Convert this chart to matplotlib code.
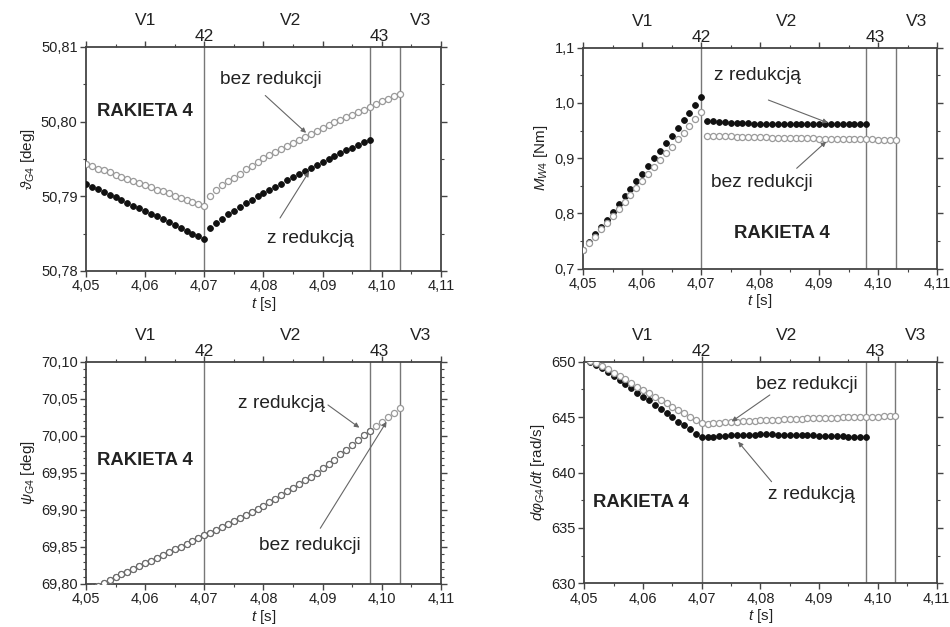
import matplotlib
matplotlib.use('Agg')
import matplotlib.pyplot as plt
import matplotlib.ticker as mticker
import numpy as np

plt.rcParams['font.family'] = ['Liberation Sans', 'DejaVu Sans']
plt.rcParams['mathtext.fontset'] = 'custom'
plt.rcParams['mathtext.rm'] = 'Liberation Sans'
plt.rcParams['mathtext.it'] = 'Liberation Sans:italic'

# time stamps [s]: phase V1 and phase V2/V3
t_v1 = [4.050, 4.051, 4.052, 4.053, 4.054, 4.055, 4.056, 4.057, 4.058, 4.059,
        4.060, 4.061, 4.062, 4.063, 4.064, 4.065, 4.066, 4.067, 4.068, 4.069,
        4.070]
t_v2 = [4.071, 4.072, 4.073, 4.074, 4.075, 4.076, 4.077, 4.078, 4.079, 4.080,
        4.081, 4.082, 4.083, 4.084, 4.085, 4.086, 4.087, 4.088, 4.089, 4.090,
        4.091, 4.092, 4.093, 4.094, 4.095, 4.096, 4.097, 4.098, 4.099, 4.100,
        4.101, 4.102, 4.103]

# theta_G4 [deg]
theta_red = [50.7917, 50.7913, 50.7910, 50.7906, 50.7902, 50.7899, 50.7895,
             50.7891, 50.7887, 50.7884, 50.7880, 50.7876, 50.7873, 50.7869,
             50.7865, 50.7861, 50.7858, 50.7854, 50.7850, 50.7847, 50.7843,
             50.7857, 50.7864, 50.7870, 50.7876, 50.7881, 50.7886, 50.7891,
             50.7895, 50.7900, 50.7904, 50.7909, 50.7913, 50.7917, 50.7922,
             50.7926, 50.7930, 50.7934, 50.7938, 50.7942, 50.7946, 50.7950,
             50.7954, 50.7958, 50.7962, 50.7965, 50.7969, 50.7973, 50.7976]
theta_nored = [50.7943, 50.7940, 50.7937, 50.7935, 50.7932, 50.7929, 50.7926,
               50.7923, 50.7921, 50.7918, 50.7915, 50.7912, 50.7909, 50.7907,
               50.7904, 50.7901, 50.7898, 50.7895, 50.7893, 50.7890, 50.7887,
               50.7901, 50.7909, 50.7915, 50.7920, 50.7925, 50.7930, 50.7936,
               50.7941, 50.7946, 50.7951, 50.7955, 50.7960, 50.7964, 50.7968,
               50.7972, 50.7976, 50.7980, 50.7984, 50.7988, 50.7991, 50.7995,
               50.7999, 50.8002, 50.8006, 50.8009, 50.8013, 50.8016, 50.8020,
               50.8023, 50.8027, 50.8030, 50.8034, 50.8037]

# M_W4 [Nm]
moment_red = [0.734, 0.748, 0.762, 0.775, 0.789, 0.803, 0.817, 0.831, 0.844,
              0.858, 0.872, 0.886, 0.900, 0.913, 0.927, 0.941, 0.955, 0.969,
              0.982, 0.996, 1.010,
              0.968, 0.967, 0.966, 0.965, 0.964, 0.964, 0.963, 0.963, 0.962,
              0.962, 0.962, 0.961, 0.961, 0.961, 0.961, 0.961, 0.961, 0.961,
              0.961, 0.962, 0.962, 0.962, 0.962, 0.962, 0.962, 0.962, 0.962,
              0.962]
moment_nored = [0.733, 0.746, 0.758, 0.771, 0.783, 0.796, 0.808, 0.821, 0.833,
                0.846, 0.858, 0.871, 0.884, 0.896, 0.909, 0.921, 0.934, 0.946,
                0.959, 0.971, 0.984,
                0.941, 0.941, 0.940, 0.940, 0.940, 0.939, 0.939, 0.939, 0.938,
                0.938, 0.938, 0.937, 0.937, 0.937, 0.937, 0.936, 0.936, 0.936,
                0.936, 0.935, 0.935, 0.935, 0.935, 0.935, 0.934, 0.934, 0.934,
                0.934, 0.934, 0.933, 0.933, 0.933, 0.933]

# psi_G4 [deg] (both variants coincide)
psi_nored = [69.790, 69.794, 69.797, 69.801, 69.805, 69.809, 69.813, 69.816,
             69.820, 69.824, 69.828, 69.831, 69.835, 69.839, 69.843, 69.847,
             69.850, 69.854, 69.858, 69.862, 69.866,
             69.869, 69.873, 69.877, 69.881, 69.885, 69.889, 69.893, 69.897,
             69.901, 69.905, 69.910, 69.915, 69.920, 69.925, 69.930, 69.935,
             69.940, 69.945, 69.950, 69.956, 69.962, 69.968, 69.975, 69.981,
             69.988, 69.994, 70.001, 70.007, 70.013, 70.019, 70.025, 70.031,
             70.037]
psi_red = psi_nored[:49]

# d phi_G4 / dt [rad/s]
omega_red = [650.30, 650.00, 649.70, 649.40, 649.05, 648.70, 648.35, 648.00,
             647.60, 647.20, 646.85, 646.50, 646.10, 645.75, 645.35, 645.00,
             644.60, 644.25, 643.90, 643.50, 643.20,
             643.22, 643.25, 643.29, 643.32, 643.35, 643.38, 643.40, 643.42,
             643.43, 643.44, 643.44, 643.44, 643.43, 643.42, 643.41, 643.40,
             643.39, 643.37, 643.36, 643.34, 643.32, 643.30, 643.28, 643.26,
             643.24, 643.22, 643.20, 643.18]
omega_nored = [650.35, 650.10, 649.85, 649.60, 649.30, 649.00, 648.70, 648.40,
               648.05, 647.75, 647.45, 647.15, 646.85, 646.55, 646.25, 645.95,
               645.65, 645.35, 645.05, 644.75, 644.45,
               644.42, 644.45, 644.48, 644.52, 644.55, 644.58, 644.61, 644.64,
               644.67, 644.70, 644.73, 644.75, 644.78, 644.80, 644.82, 644.84,
               644.86, 644.88, 644.90, 644.92, 644.93, 644.95, 644.96, 644.98,
               644.99, 645.00, 645.02, 645.03, 645.04, 645.05, 645.06, 645.07,
               645.08]

switch_times = [4.070, 4.098, 4.103]
switch_labels = ['42', '43']
switch_label_t = [4.070, 4.0995]
phase_labels = ['V1', 'V2', 'V3']
phase_label_t = [4.060, 4.0845, 4.1065]

LINE = '#777777'
SPINE = '#444444'
TEXT = '#222222'


def comma_fmt(decimals):
    return mticker.FuncFormatter(
        lambda v, p: f'{v:.{decimals}f}'.replace('.', ','))


def draw_panel(ax, y_red, y_nored, ylim, ymajor, yminor, ydec, ylabel,
               dark_overlap=False):
    t_all = t_v1 + t_v2
    ax.plot(t_all[:len(y_red)], y_red, ls='none', marker='o', ms=4.2,
            mfc='#111111', mec='#111111', mew=0.6, zorder=3)
    ax.plot(t_all[:len(y_nored)], y_nored, ls='none', marker='o', ms=4.4,
            mfc='white', mec='#9a9a9a', mew=0.9, zorder=4)
    if dark_overlap:
        # overlapping points: the darker outline of the reduced run shows
        ax.plot(t_all[:len(y_red)], y_red, ls='none', marker='o', ms=4.4,
                mfc='none', mec='#6a6a6a', mew=0.7, zorder=5)
    for t in switch_times:
        ax.axvline(t, color=LINE, lw=1.0, zorder=1)
    for s, t in zip(switch_labels, switch_label_t):
        ax.annotate(s, xy=(t, 1), xycoords=('data', 'axes fraction'),
                    xytext=(0, 7.5), textcoords='offset points',
                    ha='center', va='center', fontsize=12.5, color=TEXT)
    for s, t in zip(phase_labels, phase_label_t):
        ax.annotate(s, xy=(t, 1), xycoords=('data', 'axes fraction'),
                    xytext=(0, 19), textcoords='offset points',
                    ha='center', va='center', fontsize=12.5, color=TEXT)

    ax.set_xlim(4.05, 4.11)
    ax.set_ylim(*ylim)
    ax.xaxis.set_major_locator(mticker.MultipleLocator(0.01))
    ax.xaxis.set_minor_locator(mticker.MultipleLocator(0.005))
    ax.yaxis.set_major_locator(mticker.MultipleLocator(ymajor))
    ax.yaxis.set_minor_locator(mticker.MultipleLocator(yminor))
    ax.xaxis.set_major_formatter(comma_fmt(2))
    ax.yaxis.set_major_formatter(comma_fmt(ydec))
    ax.tick_params(which='both', direction='out', top=True, right=True,
                   color=SPINE, labelsize=10.5, labelcolor=TEXT, pad=2)
    ax.tick_params(which='major', length=4, width=1.0)
    ax.tick_params(which='minor', length=2.5, width=0.8)
    for sp in ax.spines.values():
        sp.set_color(SPINE)
        sp.set_linewidth(1.3)
    ax.set_xlabel('$t$ [s]', fontsize=11, color=TEXT, labelpad=1)
    ax.set_ylabel(ylabel, fontsize=11, color=TEXT, labelpad=3)


def label(ax, s, x, y, bold=False):
    ax.text(x, y, s, ha='left', va='center', color=TEXT,
            fontsize=13.3 if bold else 13.8,
            fontweight='bold' if bold else 'normal', zorder=6)


def arrow(ax, tail, tip):
    ax.annotate('', xy=tip, xytext=tail,
                arrowprops=dict(arrowstyle='-|>', color='#666666', lw=0.8,
                                mutation_scale=7, shrinkA=0, shrinkB=0),
                zorder=6)


def main():
    fig = plt.figure(figsize=(9.5, 6.27), dpi=100)
    ax_tl = fig.add_axes([0.0905, 0.5678, 0.3737, 0.3573])
    ax_tr = fig.add_axes([0.6140, 0.5715, 0.3723, 0.3524])
    ax_bl = fig.add_axes([0.0905, 0.0686, 0.3737, 0.3545])
    ax_br = fig.add_axes([0.6151, 0.0697, 0.3707, 0.3534])

    draw_panel(ax_tl, theta_red, theta_nored, (50.78, 50.81), 0.01, 0.005, 2,
               r'$\vartheta_{G4}$ [deg]')
    label(ax_tl, 'RAKIETA 4', 4.0519, 50.8014, bold=True)
    label(ax_tl, 'bez redukcji', 4.0726, 50.8057)
    arrow(ax_tl, (4.0803, 50.8035), (4.0872, 50.7985))
    label(ax_tl, 'z redukcją', 4.0806, 50.7844)
    arrow(ax_tl, (4.0828, 50.7871), (4.0877, 50.7933))

    draw_panel(ax_tr, moment_red, moment_nored, (0.7, 1.1), 0.1, 0.05, 1,
               '$M_{W4}$ [Nm]')
    label(ax_tr, 'z redukcją', 4.0722, 1.0488)
    arrow(ax_tr, (4.0814, 1.0053), (4.0915, 0.9640))
    label(ax_tr, 'bez redukcji', 4.0717, 0.8557)
    arrow(ax_tr, (4.0862, 0.8817), (4.0912, 0.9300))
    label(ax_tr, 'RAKIETA 4', 4.0756, 0.7641, bold=True)

    draw_panel(ax_bl, psi_red, psi_nored, (69.80, 70.10), 0.05, 0.01, 2,
               r'$\psi_{G4}$ [deg]', dark_overlap=True)
    label(ax_bl, 'z redukcją', 4.0757, 70.0439)
    arrow(ax_bl, (4.0909, 70.0416), (4.0962, 70.0110))
    label(ax_bl, 'bez redukcji', 4.0792, 69.8526)
    arrow(ax_bl, (4.0896, 69.8752), (4.1008, 70.0190))
    label(ax_bl, 'RAKIETA 4', 4.0518, 69.9664, bold=True)

    draw_panel(ax_br, omega_red, omega_nored, (630, 650), 5, 2.5, 0,
               r'$d\varphi_{G4}/dt$ [rad/s]')
    label(ax_br, 'bez redukcji', 4.0792, 647.9)
    arrow(ax_br, (4.0816, 647.0), (4.0751, 644.6))
    label(ax_br, 'z redukcją', 4.0813, 637.97)
    arrow(ax_br, (4.0819, 639.17), (4.0762, 642.78))
    label(ax_br, 'RAKIETA 4', 4.0515, 637.27, bold=True)

    fig.savefig('out.png', dpi=100, facecolor='white')


if __name__ == '__main__':
    main()
